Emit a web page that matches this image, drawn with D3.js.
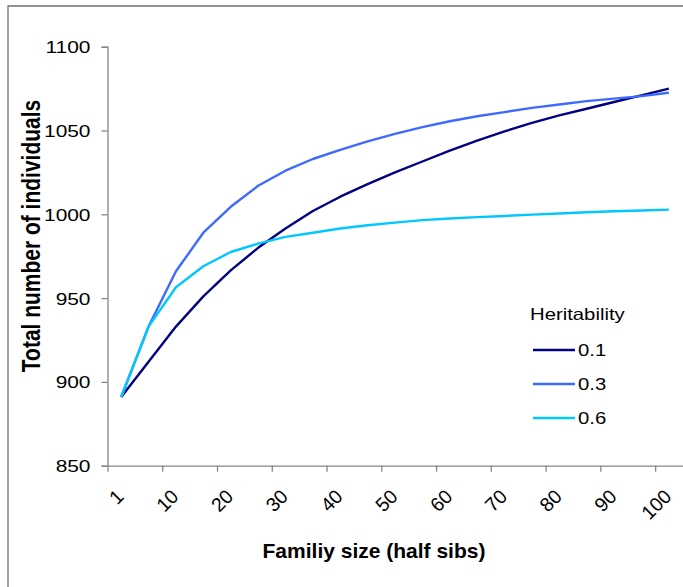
<!DOCTYPE html>
<html>
<head>
<meta charset="utf-8">
<script src="https://cdn.jsdelivr.net/npm/d3@7"></script>
<style>
  html, body { margin: 0; padding: 0; background: #fff; }
  svg { display: block; }
  text { font-family: "Liberation Sans", Arial, sans-serif; fill: #000; }
</style>
</head>
<body>
<svg id="chart" width="683" height="587"></svg>
<script>
// ---- data ----
const tickPositions = [0, 10, 20, 30, 40, 50, 60, 70, 80, 90, 100];
const tickLabels = ["1", "10", "20", "30", "40", "50", "60", "70", "80", "90", "100"];
const familyPos = [2.5, 7.5, 12.5, 17.5, 22.5, 27.5, 32.5, 37.5, 42.5, 47.5, 52.5,
                   57.5, 62.5, 67.5, 72.5, 77.5, 82.5, 87.5, 92.5, 97.5, 102.5];
const h01 = [891, 912, 933, 951, 966.5, 980, 991.5, 1002, 1010.5, 1018, 1025,
             1031.5, 1038, 1044, 1049.5, 1054.5, 1059, 1063, 1067, 1071, 1075];
const h03 = [891, 933, 966, 989, 1004.5, 1017, 1026, 1033, 1038.5, 1043.5, 1048,
             1052, 1055.5, 1058.5, 1061, 1063.5, 1065.5, 1067.5, 1069, 1070.5, 1072.5];
const h06 = [891, 933, 956.5, 969, 977.5, 982.5, 986.5, 989, 991.5, 993.5, 995,
             996.5, 997.5, 998.3, 999, 999.8, 1000.5, 1001.2, 1001.8, 1002.3, 1002.8];
const seriesNames = ["0.1", "0.3", "0.6"];
const seriesColors = ["#000080", "#3d6bff", "#00c8ff"];
const yTicks = [850, 900, 950, 1000, 1050, 1100];

const series = [h01, h03, h06].map((vals, k) => ({
  name: seriesNames[k], color: seriesColors[k],
  points: vals.map((v, i) => [familyPos[i], v])
}));

const SX = 1.23; // horizontal stretch of the original's text
const svg = d3.select("#chart");

// frame
svg.append("path").attr("d", "M8,587 V6 H683")
  .attr("fill", "none").attr("stroke", "#707070").attr("stroke-width", 1.3);

const x = d3.scaleLinear().domain([0, 105]).range([107.5, 682.5]);
const y = d3.scaleLinear().domain([850, 1100]).range([465.7, 46.7]);

// y axis
const yAxis = svg.append("g").attr("transform", `translate(${x(0)},0)`)
  .call(d3.axisLeft(y).tickValues(yTicks).tickSize(6).tickFormat(d3.format("d")));
yAxis.select(".domain").attr("stroke", "#868686").attr("stroke-width", 1.3);
yAxis.selectAll(".tick line").attr("stroke", "#868686").attr("stroke-width", 1.3);
yAxis.selectAll(".tick text")
  .style("font-size", "17px").attr("fill", "#000")
  .attr("x", 0).attr("dy", "0.35em").attr("text-anchor", "end")
  .attr("transform", `translate(-17,0) scale(${SX},1)`);

// x axis
const xAxis = svg.append("g").attr("transform", `translate(0,${y(850)})`)
  .call(d3.axisBottom(x).tickValues(tickPositions).tickSize(6).tickSizeOuter(0)
    .tickFormat((d, i) => tickLabels[i]));
xAxis.select(".domain").attr("stroke", "#868686").attr("stroke-width", 1.3);
xAxis.selectAll(".tick line").attr("stroke", "#868686").attr("stroke-width", 1.3);
xAxis.selectAll(".tick text")
  .style("font-size", "19.5px").attr("fill", "#000")
  .attr("text-anchor", "end")
  .attr("x", 0).attr("y", 0).attr("dy", 0)
  .attr("transform", "translate(17,32) rotate(-45)");

// lines
const line = d3.line().x(d => x(d[0])).y(d => y(d[1]));
svg.append("g").selectAll("path").data(series).join("path")
  .attr("d", d => line(d.points))
  .attr("fill", "none").attr("stroke", d => d.color)
  .attr("stroke-width", 2.4).attr("stroke-linejoin", "round");

// axis titles
svg.append("text")
  .attr("transform", `translate(40,236) scale(${SX},1) rotate(-90)`)
  .attr("text-anchor", "middle")
  .style("font-size", "21px").style("font-weight", "bold")
  .text("Total number of individuals");
svg.append("text")
  .attr("x", 374).attr("y", 558)
  .attr("text-anchor", "middle")
  .style("font-size", "21px").style("font-weight", "bold")
  .text("Familiy size (half sibs)");

// legend
const legend = svg.append("g");
legend.append("text")
  .attr("transform", `translate(530,320) scale(${SX},1)`)
  .style("font-size", "16.5px").text("Heritability");
const li = legend.selectAll("g.item").data(series).join("g")
  .attr("class", "item")
  .attr("transform", (d, i) => `translate(533,${350 + i * 34})`);
li.append("line").attr("x1", 0).attr("x2", 42).attr("y1", 0).attr("y2", 0)
  .attr("stroke", d => d.color).attr("stroke-width", 2.4);
li.append("text")
  .attr("transform", `translate(45,6) scale(${SX},1)`)
  .style("font-size", "16.5px").text(d => d.name);
</script>
</body>
</html>
